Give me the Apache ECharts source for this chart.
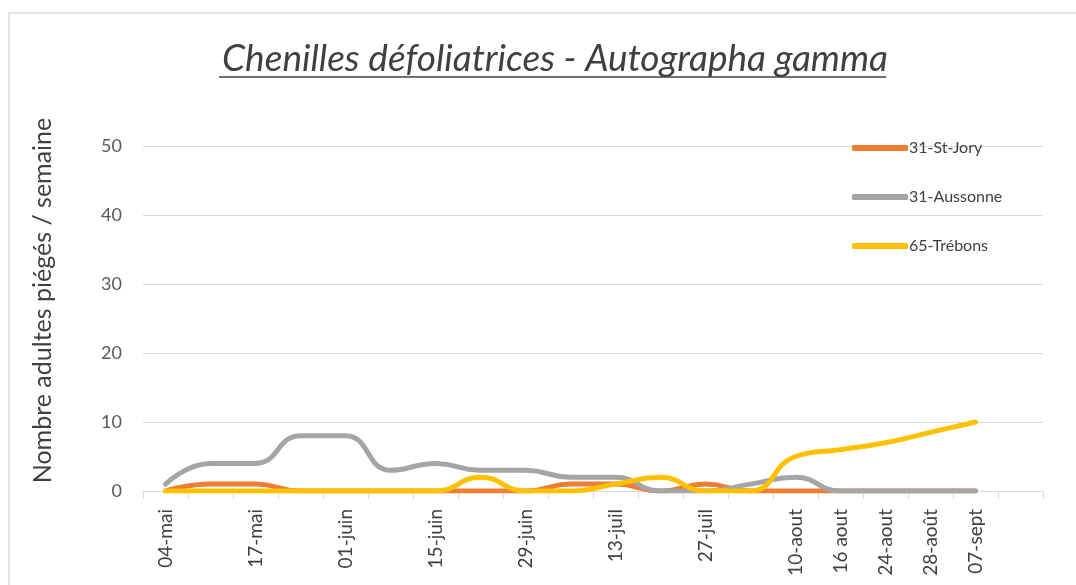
<!DOCTYPE html>
<html><head><meta charset="utf-8">
<script src="https://cdn.jsdelivr.net/npm/echarts@6/dist/echarts.min.js"></script>
<style>html,body{margin:0;padding:0;background:#fff}#c{width:1076px;height:585px}</style>
</head><body><div id="c"></div>
<script>
const categories = ['04-mai','','17-mai','','01-juin','','15-juin','','29-juin','','13-juil','','27-juil','','10-aout','16 aout','24-aout','28-août','07-sept',''];
const stJory    = [0,1,1,0,0,0,0,0,0,1,1,0,1,0,0,0,0,0,0];
const aussonne  = [1,4,4,8,8,3,4,3,3,2,2,0,0,1,2,0,0,0,0];
const trebons   = [0,0,0,0,0,0,0,2,0,0,1,2,0,0,5,6,7,8.5,10];
const yTicks = [0,10,20,30,40,50];
const seriesNames = ['31-St-Jory','31-Aussonne','65-Trébons'];
const colors = ['#ED7D31','#A5A5A5','#FFC000'];

const font = 'Lato, "Open Sans", sans-serif';
const chart = echarts.init(document.getElementById('c'));
chart.setOption({
  animation:false,
  backgroundColor:'#fff',
  title:{text:'Chenilles défoliatrices - Autographa gamma',left:550,textAlign:'center',top:36,
    textStyle:{fontFamily:font,fontStyle:'italic',fontWeight:'normal',fontSize:37,color:'#404040'}},
  graphic:[
    {type:'rect',shape:{x:9,y:13,width:1100,height:600},style:{fill:'none',stroke:'#d9d9d9',lineWidth:1.5},silent:true},
    {type:'line',shape:{x1:219,y1:77,x2:886,y2:77},style:{stroke:'#404040',lineWidth:1.5},silent:true}
  ],
  legend:{orient:'vertical',left:847,top:135,itemGap:33,itemWidth:56,itemHeight:6,
    icon:'roundRect',
    textStyle:{fontFamily:font,fontSize:16,color:'#404040',padding:[0,0,0,-4]},
    data:seriesNames},
  grid:{left:143,right:33,top:146,bottom:94,containLabel:false},
  xAxis:{type:'category',data:categories,boundaryGap:true,
    axisLine:{lineStyle:{color:'#d9d9d9',width:1}},
    axisTick:{show:true,interval:0,length:8,lineStyle:{color:'#d9d9d9'}},
    axisLabel:{interval:0,rotate:90,fontFamily:font,fontSize:19,color:'#404040',margin:18}},
  yAxis:{type:'value',min:0,max:50,interval:10,
    name:'Nombre adultes piégés / semaine',nameLocation:'middle',nameGap:88,
    nameTextStyle:{fontFamily:font,fontSize:25,color:'#404040',padding:[0,0,0,36]},
    axisLine:{show:false},axisTick:{show:false},
    splitLine:{lineStyle:{color:'#d9d9d9',width:1}},
    axisLabel:{fontFamily:font,fontSize:18,color:'#595959',margin:21,
      formatter:v=>yTicks.includes(v)?String(v):''}},
  series:[stJory,aussonne,trebons].map((d,i)=>({
    name:seriesNames[i],type:'line',data:d,smooth:0.5,symbol:'none',
    lineStyle:{width:5,color:colors[i],cap:'round'},itemStyle:{color:colors[i]},z:2+i
  }))
});
</script></body></html>
